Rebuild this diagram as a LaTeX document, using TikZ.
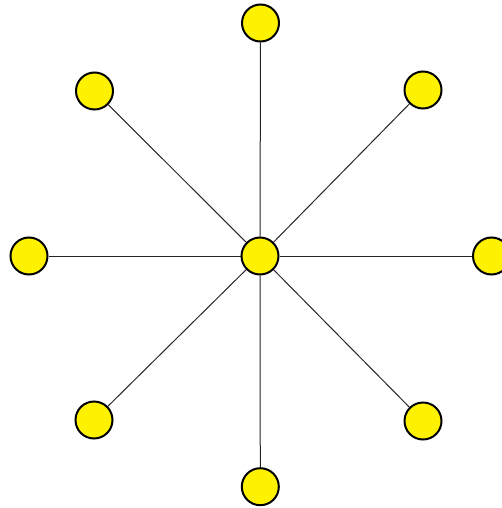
\documentclass[tikz,border=0pt]{standalone}
\begin{document}
\begin{tikzpicture}[x=1pt,y=-1pt,
  vertex/.style={circle,draw=black,fill=yellow,line width=2pt,minimum size=37pt,inner sep=0pt},
  edge/.style={draw=black!85,line width=1pt}]
\useasboundingbox (0,0) rectangle (501,508);
\node[vertex] (c) at (260,256) {};
\node[vertex] (n) at (260.5,23) {};
\node[vertex] (nw) at (94.5,91) {};
\node[vertex] (ne) at (423,90) {};
\node[vertex] (w) at (29,256) {};
\node[vertex] (e) at (491.5,256) {};
\node[vertex] (sw) at (94,420) {};
\node[vertex] (se) at (423,421) {};
\node[vertex] (s) at (260.3,486.7) {};
\foreach \t in {n,nw,ne,w,e,sw,se,s} {\draw[edge] (c) -- (\t);}
\end{tikzpicture}
\end{document}
